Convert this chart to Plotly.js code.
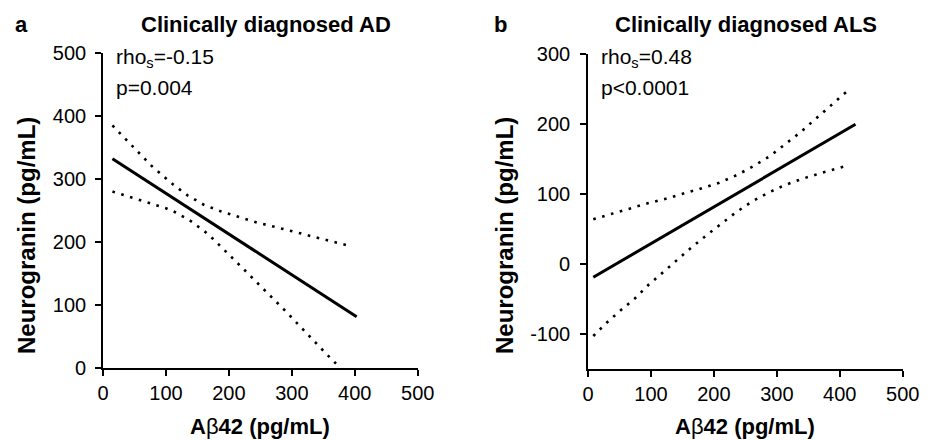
<!DOCTYPE html>
<html>
<head>
<meta charset="utf-8">
<script src="https://cdn.plot.ly/plotly-3.0.1.min.js"></script>
<style>
  html, body { margin: 0; padding: 0; background: #fff; }
  #chart { width: 931px; height: 440px; }
</style>
</head>
<body>
<div id="chart"></div>
<script>
// Panel a: clinically diagnosed AD — regression of neurogranin on Aβ42
const adFitX = [15, 403];
const adFitY = [332, 81.5];
const adUpperX = [15, 45, 77, 111, 135, 161, 189, 218, 246, 276, 305, 334, 363, 392];
const adUpperY = [385, 353.5, 321, 291.6, 273.5, 258.7, 248, 239, 230.6, 223.3, 216, 208.4, 201, 193.7];
const adLowerX = [15, 43, 71.5, 100, 114, 127, 140, 152, 164, 175, 186, 197, 207, 228, 249, 271, 292, 312.5, 333, 354, 377];
const adLowerY = [280, 271.4, 263.5, 253.5, 247.6, 240.8, 232.9, 223.8, 214.8, 204.8, 194.1, 183.6, 173.5, 152.4, 131.3, 109.5, 88.4, 66.7, 44.9, 23.3, 0];

// Panel b: clinically diagnosed ALS
const alsFitX = [8.4, 425];
const alsFitY = [-18.5, 200];
const alsUpperX = [8.4, 36.5, 65.6, 94.8, 123.5, 152.5, 180.7, 208.7, 236.8, 262.6, 289.2, 313, 336.8, 359, 381.8, 404, 415.2];
const alsUpperY = [64.3, 71.9, 79.4, 87.1, 93.7, 100.9, 108.6, 116.6, 127.6, 140, 154.7, 171.4, 188.1, 205.7, 223.3, 241, 250];
const alsLowerX = [8.4, 29.7, 52.4, 74.7, 95.8, 118.7, 140.9, 164.8, 187.5, 210.9, 235.2, 260.1, 286.5, 313, 341.2, 370.2, 399.3, 413.6];
const alsLowerY = [-102.4, -83.4, -65.3, -48.6, -29.6, -11.4, 6.1, 24.3, 40.9, 57.6, 74.3, 89.4, 102.3, 113.3, 122.3, 130.4, 137.6, 141.4];

// Axis ticks
const xTicks = [0, 100, 200, 300, 400, 500];
const xTickText = ['0', '100', '200', '300', '400', '500'];
const adYTicks = [0, 100, 200, 300, 400, 500];
const adYTickText = ['0', '100', '200', '300', '400', '500'];
const alsYTicks = [-100, 0, 100, 200, 300];
const alsYTickText = ['-100', '0', '100', '200', '300'];

// Texts
const panelLabels = ['a', 'b'];
const panelTitles = ['Clinically diagnosed AD', 'Clinically diagnosed ALS'];
const rhoTexts = ['rho<sub>s</sub>=-0.15', 'rho<sub>s</sub>=0.48'];
const pTexts = ['p=0.004', 'p<0.0001'];
const xTitle = 'A<span style="font-weight:normal">β</span>42 (pg/mL)';
const yTitle = 'Neurogranin (pg/mL)';

const FONT = 'Liberation Sans, Arial, Helvetica, sans-serif';
const W = 931, H = 440;
const px = v => v / W;
const py = v => 1 - v / H;

const fitLine = { color: '#000', width: 3 };
const ciLine = { color: '#000', width: 2.6, dash: '2.6px,6.6px' };

function tr(x, y, line, xa, ya) {
  return { x, y, type: 'scatter', mode: 'lines', line, xaxis: xa, yaxis: ya, hoverinfo: 'skip' };
}

const data = [
  tr(adFitX, adFitY, fitLine, 'x', 'y'),
  tr(adUpperX, adUpperY, ciLine, 'x', 'y'),
  tr(adLowerX, adLowerY, ciLine, 'x', 'y'),
  tr(alsFitX, alsFitY, fitLine, 'x2', 'y2'),
  tr(alsUpperX, alsUpperY, ciLine, 'x2', 'y2'),
  tr(alsLowerX, alsLowerY, ciLine, 'x2', 'y2')
];

const axisBase = {
  showline: true, linecolor: '#000', linewidth: 1.8,
  ticks: 'outside', ticklen: 6, tickwidth: 1.8, tickcolor: '#000',
  showgrid: false, zeroline: false, fixedrange: true,
  tickfont: { family: FONT, size: 20, color: '#000' },
  tickmode: 'array'
};

function ann(text, x, y, opts) {
  return Object.assign({
    text, x: px(x), y: py(y), xref: 'paper', yref: 'paper',
    showarrow: false, xanchor: 'center', yanchor: 'middle',
    font: { family: FONT, size: 21, color: '#000' }
  }, opts || {});
}
const bold22 = { family: FONT, size: 22, color: '#000', weight: 'bold' };
const bold24 = { family: FONT, size: 24, color: '#000', weight: 'bold' };

const layout = {
  width: W, height: H,
  margin: { l: 0, r: 0, t: 0, b: 0 },
  paper_bgcolor: '#fff', plot_bgcolor: '#fff',
  showlegend: false,
  xaxis: Object.assign({}, axisBase, {
    domain: [px(103), px(417.7)], range: [0, 500], anchor: 'y',
    tickvals: xTicks, ticktext: xTickText
  }),
  yaxis: Object.assign({}, axisBase, {
    domain: [py(368), py(53)], range: [0, 500], anchor: 'x',
    tickvals: adYTicks, ticktext: adYTickText, ticklabelstandoff: 5
  }),
  xaxis2: Object.assign({}, axisBase, {
    domain: [px(588), px(902.7)], range: [0, 500], anchor: 'y2',
    tickvals: xTicks, ticktext: xTickText
  }),
  yaxis2: Object.assign({}, axisBase, {
    domain: [py(369.3), py(54.3)], range: [-150, 300], anchor: 'x2',
    tickvals: alsYTicks, ticktext: alsYTickText, ticklabelstandoff: 6
  }),
  annotations: [
    ann(panelLabels[0], 21, 25, { font: bold22 }),
    ann(panelTitles[0], 266, 25, { font: bold22 }),
    ann(panelLabels[1], 500, 25, { font: bold22 }),
    ann(panelTitles[1], 746, 25, { font: bold22 }),
    ann(rhoTexts[0], 114, 58, { xanchor: 'left' }),
    ann(pTexts[0], 114, 87, { xanchor: 'left' }),
    ann(rhoTexts[1], 599, 58, { xanchor: 'left' }),
    ann(pTexts[1], 599, 87, { xanchor: 'left' }),
    ann(xTitle, 260, 426, { font: bold22 }),
    ann(xTitle, 745, 426, { font: bold22 }),
    ann(yTitle, 26, 236, { font: bold24, textangle: -90 }),
    ann(yTitle, 504, 236, { font: bold24, textangle: -90 })
  ]
};

Plotly.newPlot('chart', data, layout, { staticPlot: true, displayModeBar: false });
</script>
</body>
</html>
